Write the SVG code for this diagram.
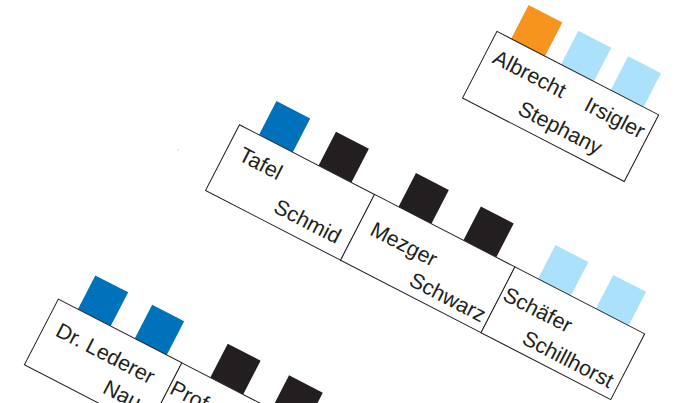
<svg xmlns="http://www.w3.org/2000/svg" width="674" height="403" viewBox="0 0 674 403">
<style>
.box{fill:#fff;stroke:#231f20;stroke-width:1}
.t{font-family:"Liberation Sans",Arial,sans-serif;font-size:21.5px;fill:#231f20}
.or{fill:#f7941d}
.lb{fill:#abe1fa}
.bl{fill:#0072bc}
.bk{fill:#231f20}
</style>
<rect width="674" height="403" fill="#fff"/>
<circle cx="178.3" cy="150" r="0.7" fill="#c8c8c8"/>
<g transform="rotate(27.3)">
  <g id="node-albrecht">
    <rect class="or" x="472" y="-238" width="38" height="38"/>
    <rect class="lb" x="528" y="-238" width="37" height="38"/>
    <rect class="lb" x="584" y="-238" width="37" height="38"/>
    <rect class="box" x="456" y="-200" width="182" height="75"/>
    <text class="t" x="465" y="-170">Albrecht</text>
    <text class="t" x="568" y="-170">Irsigler</text>
    <text class="t" x="511" y="-136">Stephany</text>
  </g>
  <g id="node-tafel">
    <rect class="bl" x="292" y="-37" width="38" height="38"/>
    <rect class="bk" x="359" y="-37" width="37" height="38"/>
    <rect class="box" x="270" y="1" width="152" height="74"/>
    <text class="t" x="284" y="33">Tafel</text>
    <text class="t" x="339" y="63">Schmid</text>
  </g>
  <g id="node-mezger">
    <rect class="bk" x="449" y="-37" width="37" height="38"/>
    <rect class="bk" x="522" y="-37" width="37" height="38"/>
    <rect class="box" x="422" y="1" width="158" height="74"/>
    <text class="t" x="435" y="39">Mezger</text>
    <text class="t" x="493" y="66">Schwarz</text>
  </g>
  <g id="node-schaefer">
    <rect class="lb" x="606" y="-37" width="37" height="38"/>
    <rect class="lb" x="671" y="-37" width="37" height="38"/>
    <rect class="box" x="580" y="1" width="146" height="74"/>
    <text class="t" x="583" y="36">Schäfer</text>
    <text class="t" x="620" y="66">Schillhorst</text>
  </g>
  <g id="node-lederer">
    <rect class="bl" x="211" y="201" width="37" height="38"/>
    <rect class="bl" x="275" y="201" width="36" height="38"/>
    <rect class="box" x="189" y="239" width="139" height="74"/>
    <text class="t" x="202" y="273">Dr. Lederer</text>
    <text class="t" x="270" y="302">Nau</text>
  </g>
  <g id="node-prof">
    <rect class="bk" x="360" y="201" width="37" height="38"/>
    <rect class="bk" x="429" y="201" width="38" height="38"/>
    <rect class="box" x="328" y="239" width="160" height="74"/>
    <text class="t" x="330" y="272">Prof. Dr.</text>
  </g>
</g>
<g id="connectors"/>
</svg>
